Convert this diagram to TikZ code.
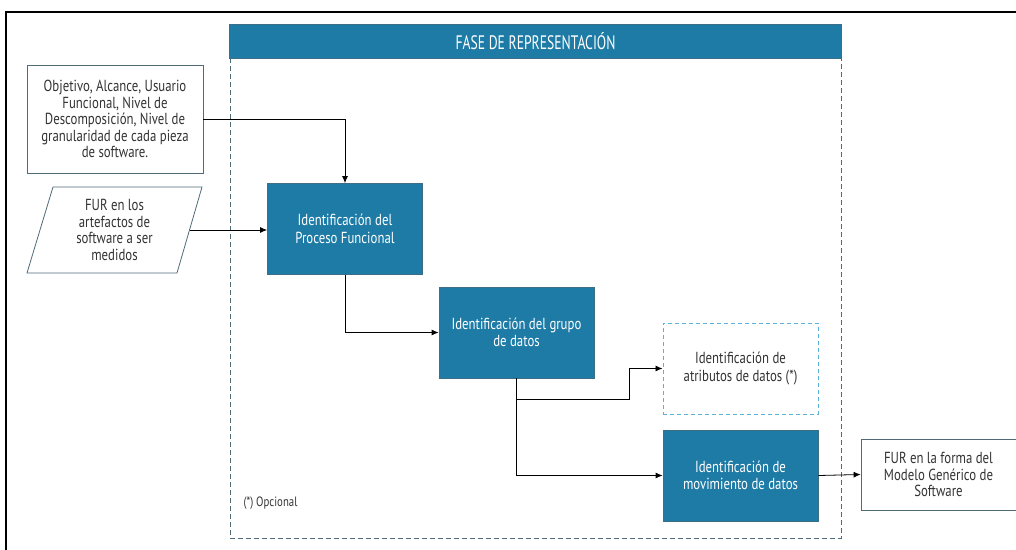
\documentclass[tikz,border=0pt]{standalone}
\usepackage{fontspec}
\setmainfont[FakeStretch=0.8]{PT Sans}
\newfontfamily\titlefont[FakeStretch=0.7]{PT Sans}
\usetikzlibrary{arrows.meta}
\definecolor{procblue}{HTML}{1E7BA6}
\definecolor{procedge}{HTML}{3C6E86}
\definecolor{framegray}{HTML}{4F6B78}
\definecolor{optblue}{HTML}{5CB0DA}
\definecolor{txtgray}{HTML}{333333}
\tikzset{
  procbox/.style={draw=procedge, fill=procblue, text=white, align=center,
    minimum width=155pt, minimum height=91pt, inner sep=0pt, line width=0.8pt,
    font=\fontsize{16}{17.5}\selectfont},
  plainbox/.style={draw=framegray, fill=white, text=txtgray, align=center,
    inner sep=0pt, line width=0.8pt, font=\fontsize{16}{16.5}\selectfont},
  optbox/.style={draw=optblue, dashed, dash pattern=on 4pt off 3pt, fill=white,
    text=txtgray, align=center, minimum width=155pt, minimum height=91pt,
    inner sep=0pt, line width=1pt, font=\fontsize{16}{17.5}\selectfont},
  flow/.style={-{Latex[length=7pt,width=6pt]}, line width=0.8pt, black},
}
\begin{document}
\begin{tikzpicture}[x=1pt,y=-1pt]
\useasboundingbox (0,0) rectangle (1016,549);
\clip (0,0) rectangle (1016,549);

% outer frame
\draw[line width=2.6pt, black] (6,12) rectangle (1030,560);

% phase frame and title
\draw[framegray, dashed, dash pattern=on 5pt off 3pt, line width=0.8pt]
  (230,58) rectangle (841,538);
\node[fill=procblue, draw=procedge, minimum width=612pt, minimum height=34pt,
  inner sep=0pt, text=white, font=\titlefont\fontsize{19.5}{20}\selectfont]
  (title) at (535.5,41) {FASE DE REPRESENTACIÓN};

% inputs
\node[plainbox, minimum width=176pt, minimum height=108pt] (scope) at (115,119)
  {Objetivo, Alcance, Usuario\\Funcional, Nivel de\\Descomposición, Nivel de\\granularidad de cada pieza\\de software.};
\draw[plainbox] (53,187) -- (202,187) -- (177,273) -- (27,273) -- cycle;
\node[text=txtgray, align=center, font=\fontsize{16}{16.5}\selectfont]
  (fur) at (114.5,230) {FUR en los\\artefactos de\\software a ser\\medidos};
\coordinate (fur-e) at (189.5,230);

% process steps
\node[procbox] (proc) at (345,229) {Identificación del\\Proceso Funcional};
\node[procbox] (grupo) at (516.5,332.5) {Identificación del grupo\\de datos};
\node[optbox] (attr) at (740.5,368.5) {Identificación de\\atributos de datos (*)};
\node[procbox] (mov) at (740.5,475.5) {Identificación de\\movimiento de datos};

% output
\node[plainbox, minimum width=155pt, minimum height=71pt] (out) at (938.5,474.5)
  {FUR en la forma del\\Modelo Genérico de\\Software};

\node[text=txtgray, anchor=west, font=\fontsize{13.5}{15}\selectfont] (note) at (240,503) {(*) Opcional};

% connectors
\draw[flow] (scope.east |- 0,119) -- (345,119) -- (proc.north);
\draw[flow] (fur-e) -- (proc.west |- fur-e);
\draw[flow] (proc.south) |- (grupo.west);
\draw[flow] (grupo.south) -- (516.5,399) -- (629,399) |- (attr.west);
\draw[flow] (grupo.south) |- (mov.west);
\draw[flow] (mov.east) -- (out.west);
\end{tikzpicture}
\end{document}
